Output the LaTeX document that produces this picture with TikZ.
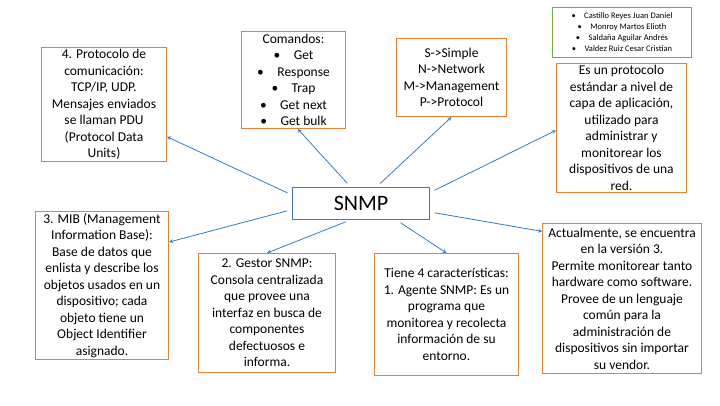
\documentclass[tikz,border=0pt]{standalone}
\usepackage{fontspec}
\setmainfont{Carlito}
\usepackage{tikz}

\definecolor{boxorange}{RGB}{237,125,49}
\definecolor{boxblue}{RGB}{68,114,196}
\definecolor{arrowblue}{RGB}{46,125,200}
\definecolor{boxgreen}{RGB}{112,173,71}

\newcommand{\bul}{\textbullet\hspace{1em}}

\tikzset{
  infobox/.style={draw=boxorange, line width=1pt, align=center, inner sep=2pt,
    anchor=north west, font=\fontsize{13.5}{16.5}\selectfont},
  link/.style={->, >=stealth, arrowblue, line width=0.8pt, shorten <=5pt}
}

\begin{document}
\begin{tikzpicture}
\useasboundingbox (0pt,0pt) rectangle (720pt,-405pt);

% equipo
\node[draw=boxgreen, line width=1pt, anchor=north west, align=center, inner sep=1pt,
  minimum width=139pt, minimum height=50pt, font=\fontsize{8.5}{11}\selectfont]
  (equipo) at (552pt,-7pt)
  {\bul Castillo Reyes Juan Daniel\\\bul Monroy Martos Elioth\\\bul Saldaña Aguilar Andrés\\\bul Valdez Ruiz Cesar Cristian};

% nodo central
\node[draw=boxblue, line width=1pt, anchor=north west, minimum width=137pt, minimum height=32pt,
  font=\fontsize{22}{26}\selectfont] (snmp) at (292pt,-187pt) {SNMP};

% cajas
\node[infobox, minimum width=125pt, minimum height=113pt] (proto) at (41pt,-47pt)
  {4. Protocolo de\\comunicación:\\TCP/IP, UDP.\\Mensajes enviados\\se llaman PDU\\(Protocol Data\\Units)};
\node[infobox, minimum width=104pt, minimum height=97pt] (comandos) at (241pt,-31pt)
  {Comandos:\\\bul Get\\\bul Response\\\bul Trap\\\bul Get next\\\bul Get bulk};
\node[infobox, minimum width=110pt, minimum height=78pt] (siglas) at (396pt,-38pt)
  {S->Simple\\N->Network\\M->Management\\P->Protocol};
\node[infobox, minimum width=130pt, minimum height=124pt] (def) at (556pt,-63pt)
  {Es un protocolo\\estándar a nivel de\\capa de aplicación,\\utilizado para\\administrar y\\monitorear los\\dispositivos de una\\red.};
\node[infobox, minimum width=133pt, minimum height=141pt] (mib) at (35pt,-211pt)
  {3. MIB (Management\\Information Base):\\Base de datos que\\enlista y describe los\\objetos usados en un\\dispositivo; cada\\objeto tiene un\\Object Identifier\\asignado.};
\node[infobox, minimum width=137pt, minimum height=119pt] (gestor) at (198pt,-253pt)
  {2. Gestor SNMP:\\Consola centralizada\\que provee una\\interfaz en busca de\\componentes\\defectuosos e\\informa.};
\node[infobox, minimum width=144pt, minimum height=122pt] (agente) at (374pt,-253pt)
  {Tiene 4 características:\\1. Agente SNMP: Es un\\programa que\\monitorea y recolecta\\información de su\\entorno.};
\node[infobox, minimum width=159pt, minimum height=150pt] (version) at (542pt,-223pt)
  {Actualmente, se encuentra\\en la versión 3.\\Permite monitorear tanto\\hardware como software.\\Provee de un lenguaje\\común para la\\administración de\\dispositivos sin importar\\su vendor.};

% flechas
\draw[link] (snmp.173) -- (proto.-27);
\draw[link] (snmp.122) -- (comandos.-85);
\draw[link] (snmp.47) -- (siglas.south);
\draw[link] (snmp.9) -- (def.182);
\draw[link] (snmp.185) -- (mib.33);
\draw[link] (snmp.237) -- (gestor.north);
\draw[link] (snmp.-25) -- (agente.north);
\draw[link] (snmp.-7) -- (version.140);
\end{tikzpicture}
\end{document}
